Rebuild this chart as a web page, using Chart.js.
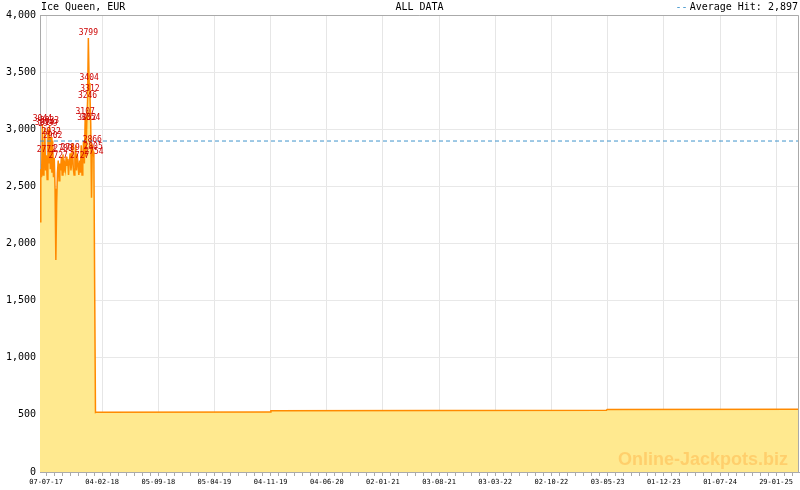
<!DOCTYPE html>
<html>
<head>
<meta charset="utf-8">
<title>Ice Queen, EUR</title>
<script src="https://cdn.jsdelivr.net/npm/chart.js@4.4.1/dist/chart.umd.min.js"></script>
<style>
  html, body { margin: 0; padding: 0; background: #fff; }
  canvas { display: block; }
</style>
</head>
<body>
<canvas id="jpChart" width="800" height="490"></canvas>
<script>
// Chart data
const chartTitle = "Ice Queen, EUR";
const rangeLabel = "ALL DATA";
const averageHit = 2897;

const dates = [
    "2017-06-14", "2017-06-17", "2017-06-20", "2017-06-23", "2017-06-26", "2017-06-29",
    "2017-07-02", "2017-07-05", "2017-07-08", "2017-07-11", "2017-07-14", "2017-07-17",
    "2017-07-20", "2017-07-23", "2017-07-26", "2017-07-29", "2017-08-01", "2017-08-04",
    "2017-08-07", "2017-08-10", "2017-08-13", "2017-08-16", "2017-08-19", "2017-08-22",
    "2017-08-25", "2017-08-28", "2017-08-31", "2017-09-03", "2017-09-06", "2017-09-09",
    "2017-09-12", "2017-09-15", "2017-09-18", "2017-09-21", "2017-09-24", "2017-09-27",
    "2017-09-30", "2017-10-03", "2017-10-06", "2017-10-09", "2017-10-12", "2017-10-15",
    "2017-10-18", "2017-10-21", "2017-10-24", "2017-10-27", "2017-10-30", "2017-11-02",
    "2017-11-05", "2017-11-08", "2017-11-11", "2017-11-14", "2017-11-17", "2017-11-20",
    "2017-11-23", "2017-11-26", "2017-11-29", "2017-12-02", "2017-12-05", "2017-12-08",
    "2017-12-11", "2017-12-14", "2017-12-17", "2017-12-20", "2017-12-23", "2017-12-26",
    "2017-12-29", "2018-01-01", "2018-01-04", "2018-01-07", "2018-01-10",
    "2018-01-13", "2019-11-02", "2019-11-05", "2023-04-28", "2023-05-01", "2025-04-26"
];

const values = [
    2190, 2650, 2580, 3044, 2600, 2720,
    3014, 2640, 2772, 2560, 2999, 2700,
    3033, 2650, 2932, 2620, 2902, 2580,
    2750, 2480, 1855, 2350, 2620, 2727,
    2550, 2700, 2640, 2760, 2600, 2780,
    2620, 2700, 2650, 2760, 2680, 2740,
    2600, 2720, 2789, 2640, 2700, 2880,
    2660, 2600, 2760, 2860, 2640, 2780,
    2690, 2600, 2727, 2620, 2860, 2600,
    2760, 2900, 2700, 3107, 2760, 3052,
    3246, 3799, 3404, 3312, 3054, 2400,
    2866, 2805, 2754, 1600, 520,
    522, 526, 536, 540, 548, 550
];

// points that carry a red value label (jackpot hits)
const hitIdx = [3, 6, 8, 10, 12, 14, 16, 23, 29, 38, 50, 57, 59, 60, 61, 62, 63, 64, 66, 67, 68];

const tickLabels = [
    "07-07-17", "04-02-18", "05-09-18", "05-04-19", "04-11-19", "04-06-20", "02-01-21",
    "03-08-21", "03-03-22", "02-10-22", "03-05-23", "01-12-23", "01-07-24", "29-01-25"
];

const MONO = "'DejaVu Sans Mono', 'Liberation Mono', monospace";

function isoToDay(s) {
    const p = s.split("-").map(Number);
    return Date.UTC(p[0], p[1] - 1, p[2]) / 864e5;
}

function tickToDay(s) {
    const p = s.split("-").map(Number);
    return Date.UTC(2000 + p[2], p[1] - 1, p[0]) / 864e5;
}

const points = dates.map((d, i) => ({ x: isoToDay(d), y: values[i] }));
const minDay = points[0].x;
const maxDay = points[points.length - 1].x;

// major + minor ticks for the date axis
const majorDays = tickLabels.map(tickToDay);
const labelByDay = new Map();
majorDays.forEach((d, i) => labelByDay.set(d, tickLabels[i]));

function buildDateTicks() {
    const ticks = [];
    for (let i = 0; i < majorDays.length; i++) {
        ticks.push({ value: majorDays[i], major: true });
        const next = i < majorDays.length - 1 ? majorDays[i + 1] : null;
        const step = (next !== null ? next - majorDays[i] : majorDays[i] - majorDays[i - 1]) / 7;
        for (let k = 1; k < 7; k++) {
            const v = majorDays[i] + step * k;
            if (v > maxDay) break;
            ticks.push({ value: v, major: false });
        }
    }
    return ticks;
}

// header texts, frame, value labels, watermark
const decorPlugin = {
    id: "decor",
    afterDatasetsDraw(chart) {
        const c = chart.ctx;

        // watermark
        c.save();
        c.font = "bold 18px 'Liberation Sans', Arial, sans-serif";
        c.fillStyle = "rgba(255, 185, 80, 0.55)";
        c.textAlign = "right";
        c.textBaseline = "alphabetic";
        c.fillText("Online-Jackpots.biz", 788, 465);
        c.restore();

        // value labels on hits
        const meta = chart.getDatasetMeta(1);
        c.save();
        c.font = "8px " + MONO;
        c.fillStyle = "#cc0000";
        c.textAlign = "center";
        c.textBaseline = "bottom";
        hitIdx.forEach(i => {
            const pt = meta.data[i];
            if (!pt) return;
            c.fillText(String(values[i]), pt.x, pt.y - 1);
        });
        c.restore();
    },
    afterDraw(chart) {
        const c = chart.ctx;
        const area = chart.chartArea;

        // frame top + right
        c.save();
        c.strokeStyle = "#aaaaaa";
        c.lineWidth = 1;
        c.beginPath();
        c.moveTo(area.left, area.top + 0.5);
        c.lineTo(area.right - 0.5, area.top + 0.5);
        c.lineTo(area.right - 0.5, area.bottom);
        c.stroke();
        c.restore();

        // header
        c.save();
        c.font = "10px " + MONO;
        c.fillStyle = "#000";
        c.textBaseline = "middle";
        c.textAlign = "left";
        c.fillText(chartTitle, area.left + 1, 7);
        c.textAlign = "center";
        c.fillText(rangeLabel, (area.left + area.right) / 2, 7);
        c.textAlign = "right";
        const avgText = "Average Hit: " + averageHit.toLocaleString("en-US");
        c.fillText(avgText, 798, 7);
        const w = c.measureText(avgText).width;
        c.fillStyle = "#3f94cc";
        c.fillText("--", 798 - w - 2, 7);
        c.restore();
    }
};

function initChart() {
    const ctx = document.getElementById("jpChart");

    return new Chart(ctx, {
        type: "line",
        data: {
            datasets: [
                {
                    label: "Average Hit",
                    data: [{ x: minDay, y: averageHit }, { x: maxDay, y: averageHit }],
                    borderColor: "#3f94cc",
                    borderWidth: 1,
                    borderDash: [4, 3],
                    pointRadius: 0,
                    fill: false,
                    order: 0,
                },
                {
                    label: chartTitle,
                    data: points,
                    borderColor: "#ff8a00",
                    backgroundColor: "#ffe98f",
                    borderWidth: 1.5,
                    pointRadius: 0,
                    tension: 0,
                    fill: "origin",
                    order: 1,
                },
            ],
        },
        options: {
            responsive: false,
            animation: false,
            layout: {
                padding: { top: 15, right: 1, left: 0, bottom: 0 },
            },
            plugins: {
                legend: { display: false },
                tooltip: { enabled: false },
            },
            scales: {
                x: {
                    type: "linear",
                    min: minDay,
                    max: maxDay,
                    afterBuildTicks(scale) {
                        scale.ticks = buildDateTicks();
                    },
                    afterFit(scale) {
                        scale.height = 18;
                    },
                    grid: {
                        color: (context) => (context.tick && context.tick.major ? "#e6e6e6" : "rgba(0,0,0,0)"),
                        tickColor: "#aaaaaa",
                        tickLength: 4,
                    },
                    border: { color: "#aaaaaa" },
                    ticks: {
                        autoSkip: false,
                        maxRotation: 0,
                        padding: 2,
                        color: "#000",
                        font: { family: MONO, size: 7 },
                        callback: (value) => labelByDay.get(value) || "",
                    },
                },
                y: {
                    min: 0,
                    max: 4000,
                    afterFit(scale) {
                        scale.width = 40;
                    },
                    grid: {
                        color: "#e8e8e8",
                        drawTicks: false,
                    },
                    border: { color: "#aaaaaa" },
                    ticks: {
                        stepSize: 500,
                        padding: 4,
                        color: "#000",
                        font: { family: MONO, size: 10 },
                        callback: (value) => value.toLocaleString("en-US"),
                    },
                },
            },
        },
        plugins: [decorPlugin],
    });
}

initChart();
</script>
</body>
</html>
